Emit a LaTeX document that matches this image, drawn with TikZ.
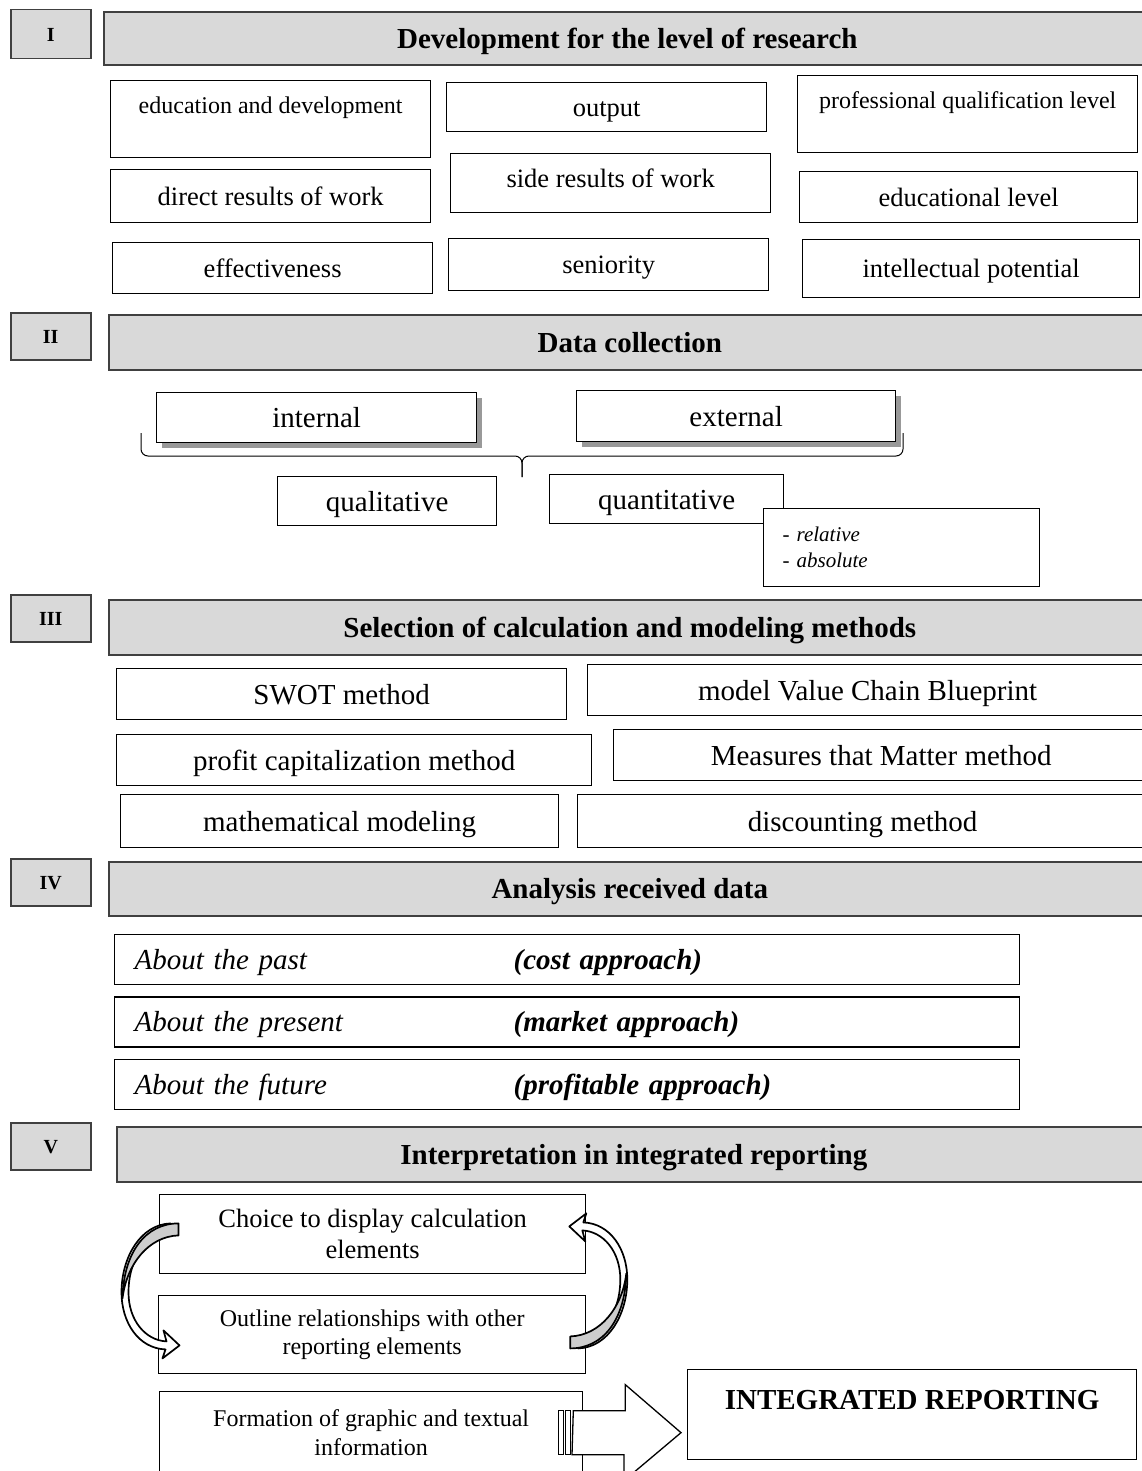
\documentclass[tikz,border=0pt]{standalone}
\usepackage{fontspec}
\setmainfont{Liberation Serif}
\usetikzlibrary{calc,positioning,shadows}
\definecolor{Shade}{HTML}{D9D9D9}
\definecolor{Edge}{HTML}{404040}
\definecolor{Turn}{HTML}{CDCDCD}

\begin{document}
\begin{tikzpicture}[x=1pt,y=-1pt,
lab/.style={draw=Edge,fill=Shade,line width=1.5pt,anchor=north west,minimum width=80pt,minimum height=47pt,text height=13.8pt,text depth=0pt,font=\fontsize{20}{24}\selectfont\bfseries},
head/.style={draw=Edge,fill=Shade,line width=1.6pt,anchor=north west,minimum height=54pt,text height=20pt,text depth=0pt,font=\fontsize{29}{34}\selectfont\bfseries},
box/.style={draw,line width=1.3pt,fill=white,anchor=north west,align=center,inner sep=2pt,text height=18.3pt,text depth=0pt,font=\fontsize{26.5}{31}\selectfont},
multi/.style={text height={},text depth={}},
wh/.style 2 args={minimum width=#1pt,minimum height=#2pt},
small/.style={text height=16.6pt,font=\fontsize{24}{28.5}\selectfont},
big/.style={text height=20pt,font=\fontsize{29}{34}\selectfont},
up/.style={text depth=#1pt},
shadowed/.style={drop shadow={shadow xshift=5pt,shadow yshift=-5pt,fill=black!40,opacity=1}},
rowbox/.style={box,wh={905}{50},align=left,text width=865pt,inner xsep=20pt,big},
bigarrow/.style={draw,line width=1.3pt,fill=white,line join=miter},
turn/.pic={
\draw[line width=1.7pt,fill=white,line join=round] (-8,-49) .. controls (-38,-46) and (-50,-20) .. (-50,8) .. controls (-50,36) and (-33,56) .. (-12,57) -- (-15,46) -- (1,61) -- (-16,74) -- (-13,65) .. controls (-40,64) and (-57,38) .. (-57,8) .. controls (-57,-27) and (-38,-60) .. (-8,-61) -- cycle;
\draw[line width=1.7pt,fill=Turn,line join=round] (0,-61) .. controls (-33,-61) and (-55,-32) .. (-56,14) .. controls (-52,-20) and (-30,-48) .. (0,-49) -- cycle;
}]
\useasboundingbox (0,0) rectangle (1141,1471);
\node[lab,minimum height=49pt](s1) at (10,9){I};
\node[head,minimum width=1047pt,minimum height=53pt](h1) at (103,11){Development for the level of research};
\node[box,small,wh={320}{77},up=28](edu) at (110,80){education and development};
\node[box,wh={320}{49}](outp) at (446,82){output};
\node[box,small,wh={340}{77},up=28](prof) at (797,75){professional qualification level};
\node[box,wh={320}{59},up=9](side) at (450,153){side results of work};
\node[box,wh={320}{53}](direct) at (110,169){direct results of work};
\node[box,wh={338}{51}](edlev) at (799,171){educational level};
\node[box,wh={320}{51}](effect) at (112,242){effectiveness};
\node[box,wh={320}{52}](senior) at (448,238){seniority};
\node[box,wh={337}{58}](intel) at (802,239){intellectual potential};

\node[lab](s2) at (10,312){II};
\node[head,minimum width=1042pt,minimum height=55pt](h2) at (108,314){Data collection};
\node[box,big,shadowed,wh={320}{50}](intern) at (156,392){internal};
\node[box,big,shadowed,wh={319}{51}](extern) at (576,390){external};
\draw[line width=1pt,rounded corners=7pt] (141,433) -- (141,456) -- (522,456) -- (522,477);
\draw[line width=1pt,rounded corners=7pt] (903,433) -- (903,456) -- (522,456) -- (522,477);
\node[box,big,wh={219}{49}](qual) at (277,476){qualitative};
\node[box,big,wh={234}{49}](quant) at (549,474){quantitative};
\node[box,multi,wh={276}{78},align=left,text width=238pt,inner xsep=19pt,font=\fontsize{21}{26}\selectfont](kinds) at (763,508){- \textit{relative}\\- \textit{absolute}};

\node[lab](s3) at (10,594){III};
\node[head,minimum width=1042pt,minimum height=55pt](h3) at (108,599){Selection of calculation and modeling methods};
\node[box,big,wh={450}{51}](swot) at (116,668){SWOT method};
\node[box,big,wh={560}{51}](vcb) at (587,664){model Value Chain Blueprint};
\node[box,big,wh={475}{51}](profit) at (116,734){profit capitalization method};
\node[box,big,wh={535}{51}](mtm) at (613,729){Measures that Matter method};
\node[box,big,wh={438}{53}](math) at (120,794){mathematical modeling};
\node[box,big,wh={570}{53}](disc) at (577,794){discounting method};

\node[lab](s4) at (10,858){IV};
\node[head,minimum width=1042pt,minimum height=54pt](h4) at (108,861){Analysis received data};
\node[rowbox](past) at (114,934){\makebox[379pt][l]{\itshape About the past}\textbf{\textit{(cost approach)}}};
\node[rowbox,below=11pt of past](present){\makebox[379pt][l]{\itshape About the present}\textbf{\textit{(market approach)}}};
\node[rowbox,below=11pt of present](future){\makebox[379pt][l]{\itshape About the future}\textbf{\textit{(profitable approach)}}};

\node[lab](s5) at (10,1122){V};
\node[head,minimum width=1034pt,minimum height=55pt](h5) at (116,1126){Interpretation in integrated reporting};
\node[box,multi,wh={426}{79}](choice) at (159,1194){Choice to display calculation\\elements};
\node[box,small,multi,wh={427}{78}](outl) at (158,1295){Outline relationships with other\\reporting elements};
\node[box,small,multi,wh={423}{82}](form) at (159,1391){Formation of graphic and textual\\information};
\node[box,big,font=\fontsize{29}{34}\selectfont\bfseries,wh={449}{90},up=30](integ) at (687,1369){INTEGRATED REPORTING};

\coordinate (lmid) at ($(choice.west)!.5!(outl.west)$);
\coordinate (rmid) at ($(choice.east)!.5!(outl.east)$);
\pic at ([xshift=20pt]lmid) {turn};
\pic[rotate=180] at ([xshift=-16pt,yshift=-3pt]rmid) {turn};

\coordinate (tip) at ([xshift=-6pt]integ.west |- form.east);
\draw[bigarrow] ([xshift=-10pt,yshift=22pt]form.east) -- ++(52,0) -- ++(0,-26) -- (tip) -- ++(-57,48) -- ++(0,-26) -- ++(-52,0) -- cycle;
\draw[bigarrow] ([xshift=-25pt,yshift=22pt]form.east) rectangle ++(5,44);
\draw[bigarrow] ([xshift=-18pt,yshift=22pt]form.east) rectangle ++(5,44);
\end{tikzpicture}
\end{document}
